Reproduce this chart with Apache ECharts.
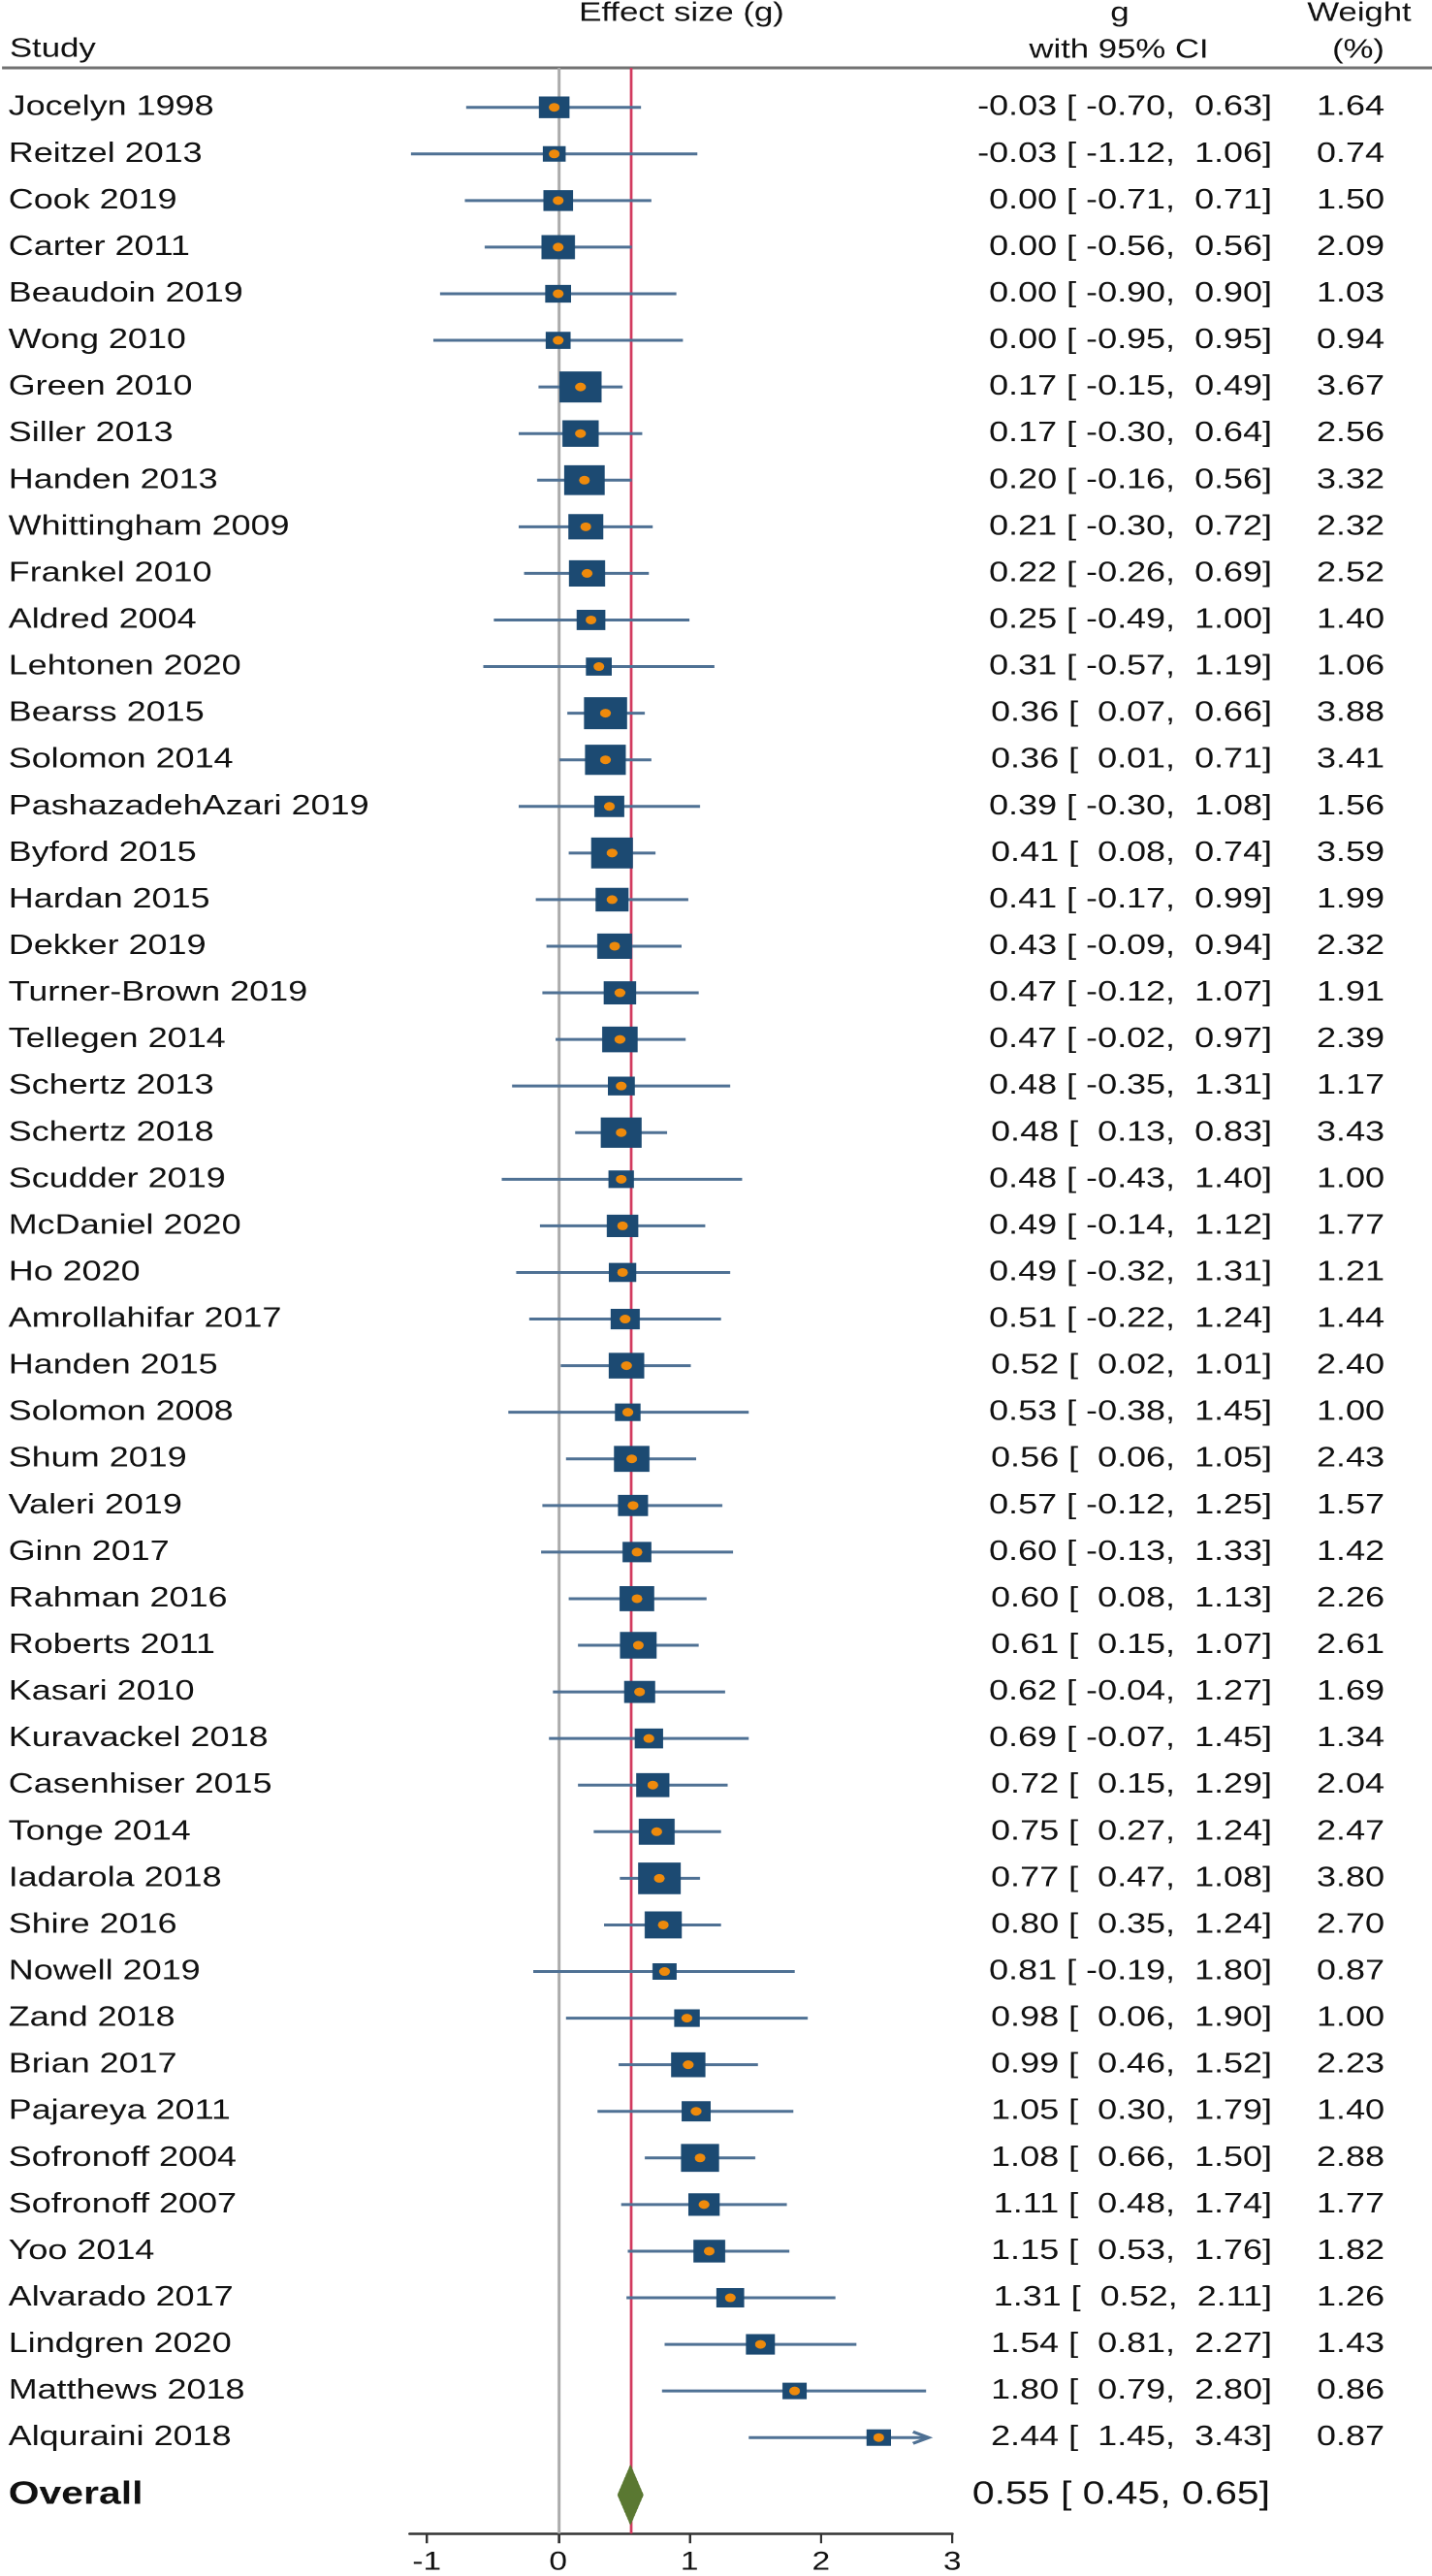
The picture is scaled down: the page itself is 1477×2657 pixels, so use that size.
<!DOCTYPE html>
<html>
<head>
<meta charset="utf-8">
<title>Forest plot</title>
<script src="https://cdn.jsdelivr.net/npm/echarts@6.0.0/dist/echarts.min.js"></script>
<style>
    html, body { margin: 0; padding: 0; background: #fff; overflow: hidden; }
    /* the original figure is stretched horizontally, so draw narrow and widen */
    #chart-container { height: 2657px; transform-origin: 0 0; }
</style>
</head>
<body>
<div id="chart-container"></div>
<script>
// DATA
var STUDIES = [
    'Jocelyn 1998', 'Reitzel 2013', 'Cook 2019', 'Carter 2011', 'Beaudoin 2019',
    'Wong 2010', 'Green 2010', 'Siller 2013', 'Handen 2013', 'Whittingham 2009',
    'Frankel 2010', 'Aldred 2004', 'Lehtonen 2020', 'Bearss 2015', 'Solomon 2014',
    'PashazadehAzari 2019', 'Byford 2015', 'Hardan 2015', 'Dekker 2019', 'Turner-Brown 2019',
    'Tellegen 2014', 'Schertz 2013', 'Schertz 2018', 'Scudder 2019', 'McDaniel 2020',
    'Ho 2020', 'Amrollahifar 2017', 'Handen 2015', 'Solomon 2008', 'Shum 2019',
    'Valeri 2019', 'Ginn 2017', 'Rahman 2016', 'Roberts 2011', 'Kasari 2010',
    'Kuravackel 2018', 'Casenhiser 2015', 'Tonge 2014', 'Iadarola 2018', 'Shire 2016',
    'Nowell 2019', 'Zand 2018', 'Brian 2017', 'Pajareya 2011', 'Sofronoff 2004',
    'Sofronoff 2007', 'Yoo 2014', 'Alvarado 2017', 'Lindgren 2020', 'Matthews 2018',
    'Alquraini 2018'
]
var G = [
    -0.03, -0.03, 0.00, 0.00, 0.00, 0.00, 0.17, 0.17, 0.20, 0.21,
    0.22, 0.25, 0.31, 0.36, 0.36, 0.39, 0.41, 0.41, 0.43, 0.47,
    0.47, 0.48, 0.48, 0.48, 0.49, 0.49, 0.51, 0.52, 0.53, 0.56,
    0.57, 0.60, 0.60, 0.61, 0.62, 0.69, 0.72, 0.75, 0.77, 0.80,
    0.81, 0.98, 0.99, 1.05, 1.08, 1.11, 1.15, 1.31, 1.54, 1.80,
    2.44
]
var LOWER = [
    -0.70, -1.12, -0.71, -0.56, -0.90, -0.95, -0.15, -0.30, -0.16, -0.30,
    -0.26, -0.49, -0.57, 0.07, 0.01, -0.30, 0.08, -0.17, -0.09, -0.12,
    -0.02, -0.35, 0.13, -0.43, -0.14, -0.32, -0.22, 0.02, -0.38, 0.06,
    -0.12, -0.13, 0.08, 0.15, -0.04, -0.07, 0.15, 0.27, 0.47, 0.35,
    -0.19, 0.06, 0.46, 0.30, 0.66, 0.48, 0.53, 0.52, 0.81, 0.79,
    1.45
]
var UPPER = [
    0.63, 1.06, 0.71, 0.56, 0.90, 0.95, 0.49, 0.64, 0.56, 0.72,
    0.69, 1.00, 1.19, 0.66, 0.71, 1.08, 0.74, 0.99, 0.94, 1.07,
    0.97, 1.31, 0.83, 1.40, 1.12, 1.31, 1.24, 1.01, 1.45, 1.05,
    1.25, 1.33, 1.13, 1.07, 1.27, 1.45, 1.29, 1.24, 1.08, 1.24,
    1.80, 1.90, 1.52, 1.79, 1.50, 1.74, 1.76, 2.11, 2.27, 2.80,
    3.43
]
var WEIGHT = [
    1.64, 0.74, 1.50, 2.09, 1.03, 0.94, 3.67, 2.56, 3.32, 2.32,
    2.52, 1.40, 1.06, 3.88, 3.41, 1.56, 3.59, 1.99, 2.32, 1.91,
    2.39, 1.17, 3.43, 1.00, 1.77, 1.21, 1.44, 2.40, 1.00, 2.43,
    1.57, 1.42, 2.26, 2.61, 1.69, 1.34, 2.04, 2.47, 3.80, 2.70,
    0.87, 1.00, 2.23, 1.40, 2.88, 1.77, 1.82, 1.26, 1.43, 0.86,
    0.87
]
// overall estimate: g, lower, upper
var OVERALL = [0.55, 0.45, 0.65]
var X_TICKS = [-1, 0, 1, 2, 3]

// LAYOUT
var S = 1.24                // horizontal stretch
var FULL_W = 1477 / S
var CLIP = 2.82             // CIs beyond this end in an arrow
var OVERALL_ROW = 51.23
var FONT = '"Liberation Sans", Arial, sans-serif'
var TEXT_COLOR = '#111'

var chartDom = document.getElementById('chart-container')
chartDom.style.width = FULL_W + 'px'
chartDom.style.transform = 'scaleX(' + S + ')'
var myChart = echarts.init(chartDom, null, { devicePixelRatio: 2 })

var fmt = function (v) { return v.toFixed(2) }
var pad = function (s, n) { return s.padStart(n) }

var rows = STUDIES.map(function (name, i) {
    return [i, G[i], LOWER[i], UPPER[i], WEIGHT[i]]
})

function renderStudy(params, api) {
    var i = api.value(0)
    var g = api.value(1), lo = api.value(2), hi = api.value(3), w = api.value(4)
    var c = api.coord([g, i])
    var a = api.coord([lo, i])
    var b = api.coord([Math.min(hi, CLIP), i])
    var bw = (18.6 * Math.sqrt(w) + 7.7) / S
    var bh = 15.3 * Math.sqrt(w) + 2.8
    var ciStyle = { stroke: '#4f7194', lineWidth: 3 }
    var children = [{
        type: 'line',
        shape: { x1: a[0], y1: a[1], x2: b[0], y2: b[1] },
        style: ciStyle
    }]
    if (hi > CLIP) {
        children.push({
            type: 'polyline',
            shape: { points: [[b[0] - 13, b[1] - 6], [b[0], b[1]], [b[0] - 13, b[1] + 6]] },
            style: { stroke: '#4f7194', lineWidth: 3, fill: null }
        })
    }
    children.push({
        type: 'rect',
        shape: { x: c[0] - bw / 2, y: c[1] - bh / 2, width: bw, height: bh },
        style: { fill: '#1c4a72' }
    })
    children.push({
        type: 'circle',
        shape: { cx: c[0], cy: c[1], r: 4.5 },
        style: { fill: '#ee8a0c' }
    })
    return { type: 'group', children: children }
}

function renderRowText(params, api) {
    var i = api.value(0)
    var y = api.coord([0, i])[1]
    var ci = pad(fmt(api.value(1)), 5) + ' [' + pad(fmt(api.value(2)), 6) + ',' + pad(fmt(api.value(3)), 6) + ']'
    var base = { fill: TEXT_COLOR, fontSize: 29, fontFamily: FONT, verticalAlign: 'middle' }
    return {
        type: 'group',
        children: [
            { type: 'text', style: Object.assign({ x: 7, y: y, text: STUDIES[i], align: 'left' }, base) },
            { type: 'text', style: Object.assign({ x: 1312 / S, y: y, text: ci, align: 'right' }, base) },
            { type: 'text', style: Object.assign({ x: 1428 / S, y: y, text: fmt(api.value(4)), align: 'right' }, base) }
        ]
    }
}

function renderOverall(params, api) {
    var y = OVERALL_ROW
    var c = api.coord([api.value(0), y])
    var a = api.coord([api.value(1), y])
    var b = api.coord([api.value(2), y])
    var h = 31.6
    var txt = fmt(api.value(0)) + ' [ ' + fmt(api.value(1)) + ', ' + fmt(api.value(2)) + ']'
    return {
        type: 'group',
        children: [
            {
                type: 'polygon',
                shape: { points: [a, [c[0], c[1] - h], b, [c[0], c[1] + h]] },
                style: { fill: '#5a7832' }
            },
            {
                type: 'text',
                style: { x: 7, y: c[1], text: 'Overall', align: 'left', verticalAlign: 'middle',
                    fill: TEXT_COLOR, fontSize: 33, fontWeight: 'bold', fontFamily: FONT }
            },
            {
                type: 'text',
                style: { x: 1310 / S, y: c[1], text: txt, align: 'right', verticalAlign: 'middle',
                    fill: TEXT_COLOR, fontSize: 33, fontFamily: FONT }
            }
        ]
    }
}

var headText = function (x, y, text, align) {
    return {
        type: 'text', x: x, y: y,
        style: { text: text, fill: TEXT_COLOR, fontSize: 28, fontFamily: FONT,
            align: align || 'center', verticalAlign: 'middle' }
    }
}

var option = {
    animation: false,
    backgroundColor: '#fff',
    grid: { left: 340.8, width: 451.3, top: 70, height: 2543.3 },
    xAxis: {
        type: 'value',
        min: -1.13,
        max: 3,
        splitLine: { show: false },
        axisLine: { show: true, onZero: false, lineStyle: { color: '#333', width: 2.5 } },
        axisTick: { show: true, customValues: X_TICKS, length: 10, lineStyle: { color: '#333', width: 2 } },
        axisLabel: { customValues: X_TICKS, fontSize: 27, color: TEXT_COLOR, fontFamily: FONT, margin: 16 }
    },
    yAxis: {
        type: 'value',
        inverse: true,
        min: -0.8467,
        max: 52.061,
        show: false
    },
    graphic: [
        {
            type: 'line',
            shape: { x1: 2 / S, y1: 70, x2: FULL_W, y2: 70 },
            style: { stroke: '#727272', lineWidth: 3 }
        },
        headText(703 / S, 14, 'Effect size (g)'),
        headText(8, 51, 'Study', 'left'),
        headText(1155 / S, 14, 'g'),
        headText(1154 / S, 52, 'with 95% CI'),
        headText(1402 / S, 14, 'Weight'),
        headText(1401 / S, 52, '(%)')
    ],
    series: [
        {
            // reference lines: no effect and pooled estimate, kept behind the marks
            type: 'line',
            data: [],
            z: 1,
            markLine: {
                z: 1,
                silent: true,
                symbol: 'none',
                label: { show: false },
                data: [
                    { xAxis: 0, lineStyle: { color: '#ababab', width: 2.4, type: 'solid' } },
                    { xAxis: OVERALL[0], lineStyle: { color: '#d23a5e', width: 2.3, type: 'solid' } }
                ]
            }
        },
        {
            type: 'custom',
            z: 3,
            renderItem: renderStudy,
            encode: { x: [1, 2, 3], y: 0 },
            data: rows
        },
        {
            type: 'custom',
            z: 3,
            renderItem: renderRowText,
            encode: { y: 0 },
            data: rows
        },
        {
            type: 'custom',
            z: 3,
            renderItem: renderOverall,
            encode: { x: [0, 1, 2] },
            data: [OVERALL]
        }
    ]
}

myChart.setOption(option)
</script>
</body>
</html>
